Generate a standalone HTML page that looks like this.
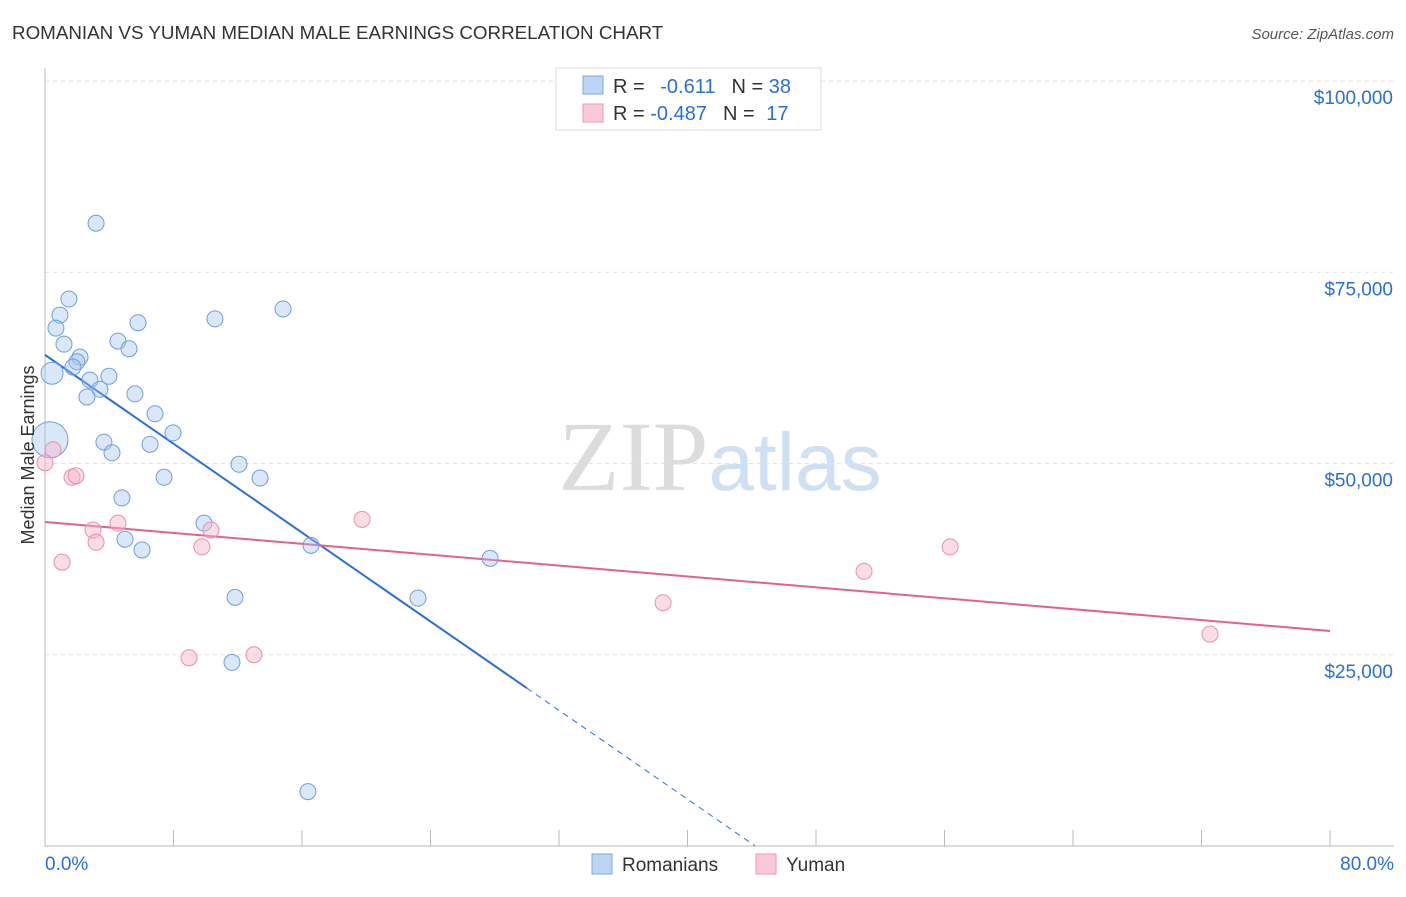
<!DOCTYPE html>
<html><head><meta charset="utf-8"><style>
body{margin:0;background:#fff;font-family:"Liberation Sans",sans-serif;}
svg text{font-family:"Liberation Sans",sans-serif;}
</style></head><body>
<svg id="chart" width="1406" height="892" viewBox="0 0 1406 892">
<text x="12" y="39" font-size="18.8" fill="#333">ROMANIAN VS YUMAN MEDIAN MALE EARNINGS CORRELATION CHART</text>
<text x="1394" y="39" font-size="15" fill="#555" text-anchor="end" font-style="italic">Source: ZipAtlas.com</text>
<text x="720" y="490" font-size="100" text-anchor="middle"><tspan fill="#dcdcdc" font-family="Liberation Serif">ZIP</tspan><tspan fill="#cfe0f3" font-size="82">atlas</tspan></text>
<g id="grid"></g><g id="axes"></g><g id="lines"></g><g id="points"></g>
<text transform="translate(34,455) rotate(-90)" font-size="18" fill="#333" text-anchor="middle">Median Male Earnings</text>
<g>
<rect x="556" y="68" width="265" height="62" fill="#fff" stroke="#ddd"/>
<rect x="583" y="76" width="20" height="18" fill="#bcd5f5" stroke="#7aa6e0"/>
<rect x="583" y="104" width="20" height="18" fill="#f9c9d7" stroke="#e89ab2"/>
<text x="613" y="93" font-size="20" fill="#333">R = <tspan fill="#2a6fd6" dx="10">-0.611</tspan><tspan fill="#333" dx="16">N = </tspan><tspan fill="#2a6fd6">38</tspan></text>
<text x="613" y="120" font-size="20" fill="#333">R = <tspan fill="#2a6fd6">-0.487</tspan><tspan fill="#333" dx="16">N = </tspan><tspan fill="#2a6fd6" dx="6">17</tspan></text>
</g>
<g>
<rect x="592" y="854" width="20" height="20" fill="#bcd5f5" stroke="#7aa6e0"/>
<text x="622" y="871" font-size="19" fill="#333">Romanians</text>
<rect x="756" y="854" width="20" height="20" fill="#f9c9d7" stroke="#e89ab2"/>
<text x="786" y="871" font-size="19" fill="#333">Yuman</text>
</g>
</svg>
<script>
const yTicks=[25000,50000,75000,100000];
const yTickLabels=["$25,000","$50,000","$75,000","$100,000"];
const xTicks=[0,8,16,24,32,40,48,56,64,72,80];
const romX=[3.18,1.49,0.93,0.68,1.18,0.44,2.18,1.99,1.74,2.80,3.98,3.42,2.61,4.54,5.23,5.79,5.60,6.85,7.97,6.54,3.67,4.17,7.41,4.79,4.98,6.04,9.90,10.58,14.82,12.08,13.39,11.83,11.64,16.56,23.22,27.71,16.37,0.31];
const romY=[81400,71500,69400,67700,65600,61800,63900,63300,62600,60900,61400,59700,58700,66000,65000,68400,59100,56500,54000,52500,52800,51400,48200,45500,40100,38700,42200,68900,70200,49900,48100,32500,24000,39300,32400,37600,7100,53100];
const romR=[8,8,8,8,8,11,8,8,8,8,8,8,8,8,8,8,8,8,8,8,8,8,8,8,8,8,8,8,8,8,8,8,8,8,8,8,8,18];
const yumX=[0.50,0,1.68,1.93,1.06,2.99,3.18,4.54,9.77,10.33,8.97,13.01,19.74,38.48,50.99,56.35,72.53];
const yumY=[51800,50100,48200,48400,37100,41300,39700,42200,39100,41300,24600,25000,42700,31800,35900,39100,27700];
const romLine=[64200,-1452];
const yumLine=[42350,-178];
const X=v=>45+v/80*1285, Y=v=>846-v/25000*191.25;
const NS="http://www.w3.org/2000/svg";
function mk(p,t,a){const e=document.createElementNS(NS,t);for(const k in a)e.setAttribute(k,a[k]);document.getElementById(p).appendChild(e);return e;}
yTicks.forEach((v,i)=>{
 const g=mk('grid','line',{x1:45,x2:1394,y1:Y(v),y2:Y(v),stroke:'#e2e2e2','stroke-dasharray':'4,4'});
 
 
 const t=mk('axes','text',{x:1393,y:Y(v)+23,'font-size':19,fill:'#2a6fd6','text-anchor':'end'});
 t.textContent=yTickLabels[i];
 
 
});
const ax=mk('axes','line',{x1:45,x2:1394,y1:846,y2:846,stroke:'#bbb'});


const ay=mk('axes','line',{x1:45,x2:45,y1:68,y2:846,stroke:'#bbb'});


xTicks.forEach(v=>{
 const l=mk('axes','line',{x1:X(v),x2:X(v),y1:830,y2:846,stroke:'#bbb'});
 
 
});
[[0,'0.0%','start',45],[80,'80.0%','end',1394]].forEach(d=>{
 const t=mk('axes','text',{x:d[3],y:870,'font-size':19,fill:'#2a6fd6','text-anchor':d[2]});
 t.textContent=d[1];
 
 
});
const f=(l,x)=>l[0]+l[1]*x;
const xEnd=30, xZero=-romLine[0]/romLine[1];
const b1=mk('lines','line',{x1:X(0),y1:Y(f(romLine,0)),x2:X(xEnd),y2:Y(f(romLine,xEnd)),stroke:'#2a6fd6','stroke-width':2});


const b2=mk('lines','line',{x1:X(xEnd),y1:Y(f(romLine,xEnd)),x2:X(xZero),y2:Y(0),stroke:'#2a6fd6','stroke-width':1,'stroke-dasharray':'6,5'});


const p1=mk('lines','line',{x1:X(0),y1:Y(f(yumLine,0)),x2:X(80),y2:Y(f(yumLine,80)),stroke:'#e5608a','stroke-width':2});


romX.forEach((v,i)=>{
 const c=mk('points','circle',{cx:X(v),cy:Y(romY[i]),r:romR[i],fill:'rgba(160,196,240,0.4)',stroke:'#6f9fdc','stroke-width':1});
 
 
});
yumX.forEach((v,i)=>{
 const c=mk('points','circle',{cx:X(v),cy:Y(yumY[i]),r:8,fill:'rgba(247,180,200,0.45)',stroke:'#e890ab','stroke-width':1});
 
 
});
</script>
</body></html>
